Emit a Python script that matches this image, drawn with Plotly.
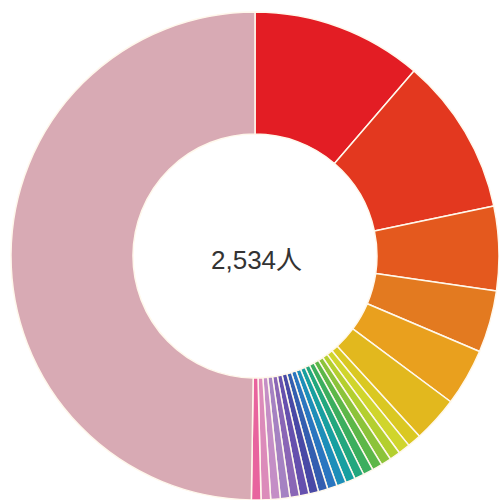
import plotly.graph_objects as go

categories = [f"项目{i}" for i in range(1, 26)]
values = [286, 264, 141, 104, 96, 77, 23, 20,
          18, 17, 17, 17, 16, 16, 16, 16, 16, 16, 16, 16, 16, 16, 16, 16,
          1260]
colors = ["#E31D24", "#E3381F", "#E4591E", "#E37A20", "#E9A01E", "#E2B81E",
          "#DAC822", "#D0D52C", "#B4CF2E", "#8CC33A", "#5DB748", "#3CAE5E",
          "#23A77E", "#189FA0", "#1D8EB9", "#2A76C0", "#345EB0", "#4949A6",
          "#6650AE", "#8A66B6", "#A582C2", "#C48EC6", "#DC8BBA", "#E8649E",
          "#D8AAB4"]
total_label = "2,534人"

fig = go.Figure(go.Pie(
    labels=categories,
    values=values,
    hole=0.5,
    sort=False,
    direction="clockwise",
    rotation=0,
    textinfo="none",
    hoverinfo="label+value",
    marker=dict(colors=colors, line=dict(color="#FFF8EC", width=1.5)),
    domain=dict(x=[0.022, 1.0], y=[0.0, 0.976]),
    showlegend=False,
))

fig.add_annotation(
    text=total_label, x=0.515, y=0.48, xref="paper", yref="paper",
    showarrow=False, xanchor="center", yanchor="middle",
    font=dict(family="Liberation Sans, Noto Sans CJK JP, sans-serif", size=26, color="#333333"),
)

fig.update_layout(
    width=499, height=500,
    margin=dict(l=0, r=0, t=0, b=0),
    paper_bgcolor="white", plot_bgcolor="white",
)

fig.write_html("out.html")
